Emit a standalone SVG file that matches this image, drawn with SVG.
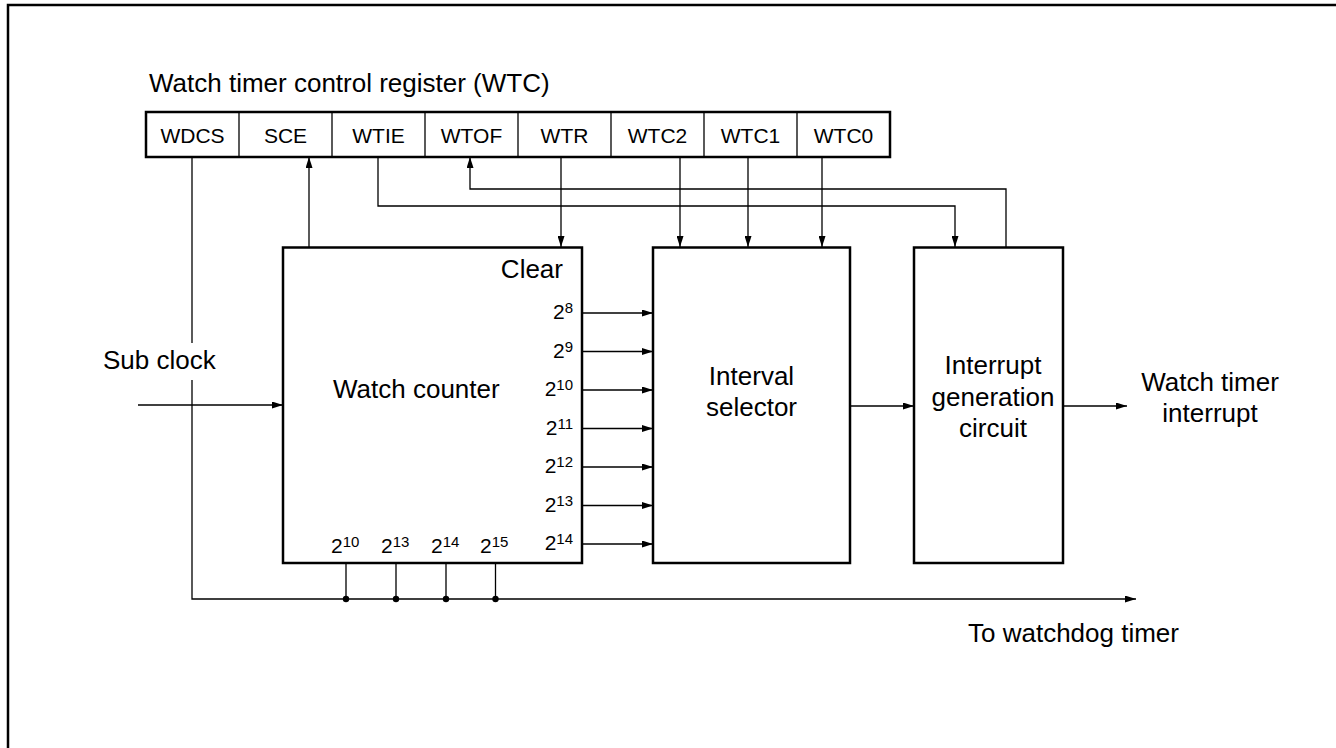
<svg xmlns="http://www.w3.org/2000/svg" width="1336" height="748" viewBox="0 0 1336 748">
<style>
text{font-family:"Liberation Sans",Arial,sans-serif;fill:#000}
.lbl{font-size:26px}
.cell{font-size:21px;text-anchor:middle}
.pw{font-size:21px}
.sup{font-size:15px}
.box{fill:#fff;stroke:#000;stroke-width:2.5}
.div{stroke:#000;stroke-width:1.3}
.wire{fill:none;stroke:#000;stroke-width:1.3}
.mid{text-anchor:middle}
.end{text-anchor:end}
</style>
<defs>
<marker id="arr" markerUnits="userSpaceOnUse" markerWidth="11" markerHeight="7" refX="11" refY="3.5" orient="auto">
<path d="M0,0 L11,3.5 L0,7 z" fill="#000"/>
</marker>
</defs>
<rect width="1336" height="748" fill="#fff"/>
<path d="M8,748 V5 H1336" fill="none" stroke="#000" stroke-width="2.5"/>

<g id="register">
<text class="lbl" x="149" y="92">Watch timer control register (WTC)</text>
<rect class="box" x="146" y="112" width="744" height="45"/>
<line class="div" x1="239" y1="112" x2="239" y2="157"/>
<line class="div" x1="332" y1="112" x2="332" y2="157"/>
<line class="div" x1="425" y1="112" x2="425" y2="157"/>
<line class="div" x1="518" y1="112" x2="518" y2="157"/>
<line class="div" x1="611" y1="112" x2="611" y2="157"/>
<line class="div" x1="704" y1="112" x2="704" y2="157"/>
<line class="div" x1="797" y1="112" x2="797" y2="157"/>
<text class="cell" x="192.5" y="143">WDCS</text>
<text class="cell" x="285.5" y="143">SCE</text>
<text class="cell" x="378.5" y="143">WTIE</text>
<text class="cell" x="471.5" y="143">WTOF</text>
<text class="cell" x="564.5" y="143">WTR</text>
<text class="cell" x="657.5" y="143">WTC2</text>
<text class="cell" x="750.5" y="143">WTC1</text>
<text class="cell" x="843.5" y="143">WTC0</text>
</g>

<g id="watch-counter">
<rect class="box" x="283" y="247.5" width="299" height="315.5"/>
<text class="lbl" x="333" y="398">Watch counter</text>
<text class="lbl end" x="563" y="278">Clear</text>
<text class="pw end" x="573" y="319">2<tspan class="sup" dy="-6">8</tspan></text>
<text class="pw end" x="573" y="357.5">2<tspan class="sup" dy="-6">9</tspan></text>
<text class="pw end" x="573" y="396">2<tspan class="sup" dy="-6">10</tspan></text>
<text class="pw end" x="573" y="434.5">2<tspan class="sup" dy="-6">11</tspan></text>
<text class="pw end" x="573" y="473">2<tspan class="sup" dy="-6">12</tspan></text>
<text class="pw end" x="573" y="511.5">2<tspan class="sup" dy="-6">13</tspan></text>
<text class="pw end" x="573" y="550">2<tspan class="sup" dy="-6">14</tspan></text>
<text class="pw" x="331" y="553">2<tspan class="sup" dy="-6">10</tspan></text>
<text class="pw" x="381" y="553">2<tspan class="sup" dy="-6">13</tspan></text>
<text class="pw" x="431" y="553">2<tspan class="sup" dy="-6">14</tspan></text>
<text class="pw" x="480" y="553">2<tspan class="sup" dy="-6">15</tspan></text>
</g>

<g id="interval-selector">
<rect class="box" x="653" y="247.5" width="197" height="315.5"/>
<text class="lbl mid" x="751.5" y="385">Interval</text>
<text class="lbl mid" x="751.5" y="416">selector</text>
</g>

<g id="interrupt-circuit">
<rect class="box" x="914" y="247.5" width="149" height="315.5"/>
<text class="lbl mid" x="993" y="374">Interrupt</text>
<text class="lbl mid" x="993" y="406">generation</text>
<text class="lbl mid" x="993" y="437">circuit</text>
</g>

<g id="labels">
<text class="lbl" x="103" y="369">Sub clock</text>
<text class="lbl mid" x="1210" y="391">Watch timer</text>
<text class="lbl mid" x="1210" y="422">interrupt</text>
<text class="lbl" x="968" y="642">To watchdog timer</text>
</g>

<g id="connectors">
<path class="wire" d="M192,157 V343"/>
<path class="wire" d="M192,380 V599 H1136" marker-end="url(#arr)"/>
<path class="wire" d="M346,563 V599 M396,563 V599 M446,563 V599 M495.5,563 V599"/>
<circle cx="346" cy="599" r="3.2"/>
<circle cx="396" cy="599" r="3.2"/>
<circle cx="446" cy="599" r="3.2"/>
<circle cx="495.5" cy="599" r="3.2"/>
<path class="wire" d="M309,247 V157" marker-end="url(#arr)"/>
<path class="wire" d="M378,157 V206 H955 V247" marker-end="url(#arr)"/>
<path class="wire" d="M1006,247 V189 H470 V157" marker-end="url(#arr)"/>
<path class="wire" d="M561,157 V247" marker-end="url(#arr)"/>
<path class="wire" d="M680,157 V247" marker-end="url(#arr)"/>
<path class="wire" d="M748,157 V247" marker-end="url(#arr)"/>
<path class="wire" d="M822,157 V247" marker-end="url(#arr)"/>
<path class="wire" d="M582,313 H653" marker-end="url(#arr)"/>
<path class="wire" d="M582,351.5 H653" marker-end="url(#arr)"/>
<path class="wire" d="M582,390 H653" marker-end="url(#arr)"/>
<path class="wire" d="M582,428.5 H653" marker-end="url(#arr)"/>
<path class="wire" d="M582,467 H653" marker-end="url(#arr)"/>
<path class="wire" d="M582,505.5 H653" marker-end="url(#arr)"/>
<path class="wire" d="M582,544 H653" marker-end="url(#arr)"/>
<path class="wire" d="M138,405 H283" marker-end="url(#arr)"/>
<path class="wire" d="M850,406 H914" marker-end="url(#arr)"/>
<path class="wire" d="M1063,406 H1127" marker-end="url(#arr)"/>
</g>
</svg>
